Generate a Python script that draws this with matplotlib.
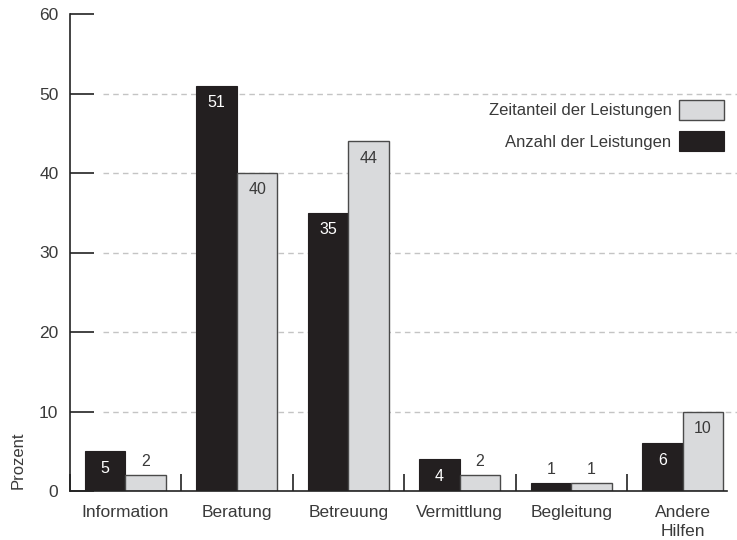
import numpy as np
import matplotlib.pyplot as plt

plt.rcParams["font.family"] = ["Liberation Sans", "DejaVu Sans"]

# Daten
kategorien = ["Information", "Beratung", "Betreuung", "Vermittlung", "Begleitung", "Andere\nHilfen"]
anzahl = [5, 51, 35, 4, 1, 6]
zeitanteil = [2, 40, 44, 2, 1, 10]
y_ticks = [0, 10, 20, 30, 40, 50, 60]
gitter = [10, 20, 30, 40, 50]

text_farbe = "#3a3a3a"
schwarz = "#231f20"
grau = "#d9dadc"

fig = plt.figure(figsize=(7.37, 5.4), dpi=100)
ax = fig.add_axes([69.5 / 737, 1 - 491 / 540, (738.5 - 69.5) / 737, (491 - 14) / 540])

x = np.arange(len(kategorien)) + 0.5
b = 0.365

# Gitterlinien (gestrichelt, beginnen rechts neben der Achse)
ax.hlines(gitter, 0.3, 6.0, colors="#c4c4c4", linestyles=(0, (4, 3)), linewidth=1, zorder=0)

bars_a = ax.bar(x - b / 2, anzahl, b, color=schwarz, edgecolor=schwarz, linewidth=0.8,
                label="Anzahl der Leistungen", zorder=2)
bars_z = ax.bar(x + b / 2, zeitanteil, b, color=grau, edgecolor="#4a4a4a", linewidth=1,
                label="Zeitanteil der Leistungen", zorder=2)

# Werte beschriften
for bars, werte, innen_farbe in [(bars_a, anzahl, "white"), (bars_z, zeitanteil, text_farbe)]:
    for rect, v in zip(bars, werte):
        cx = rect.get_x() + rect.get_width() / 2
        if v >= 3:
            ax.annotate(str(v), (cx, v), xytext=(0, -17), textcoords="offset pixels",
                        ha="center", va="center", fontsize=11.5, color=innen_farbe)
        else:
            ax.annotate(str(v), (cx, v), xytext=(0, 14), textcoords="offset pixels",
                        ha="center", va="center", fontsize=11.5, color=text_farbe)

ax.set_xlim(0, 6)
ax.set_ylim(0, 60)
ax.set_yticks(y_ticks)
ax.tick_params(axis="y", direction="in", length=17, width=1.2, color="#222222",
               labelsize=12.5, labelcolor=text_farbe, pad=8)
ax.set_xticks(x)
ax.set_xticklabels(kategorien, fontsize=12.5, color=text_farbe, linespacing=1.35)
ax.tick_params(axis="x", which="major", length=0, pad=10)
ax.set_xticks(np.arange(0, 6), minor=True)
ax.tick_params(axis="x", which="minor", direction="in", length=12, width=1.2, color="#222222")

for s in ["top", "right"]:
    ax.spines[s].set_visible(False)
ax.spines["left"].set_color("#222222")
ax.spines["bottom"].set_color("#222222")
ax.spines["left"].set_linewidth(1.2)
ax.spines["bottom"].set_linewidth(1.2)
ax.spines["bottom"].set_bounds(0, 5.9)

# Legende
handles = [bars_z, bars_a]
leg = ax.legend(handles, [h.get_label() for h in handles], loc="upper right",
                bbox_to_anchor=(724 / 737, 1 - 100 / 540), bbox_transform=fig.transFigure,
                frameon=False, markerfirst=False, fontsize=12, handlelength=2.7,
                handleheight=1.45, handletextpad=0.45, labelspacing=0.7,
                borderaxespad=0, borderpad=0)
for t in leg.get_texts():
    t.set_color(text_farbe)

fig.text(18 / 737, 1 - 460 / 540, "Prozent", rotation=90, ha="center", va="center",
         fontsize=12, color=text_farbe)

fig.savefig("out.png", dpi=100)
